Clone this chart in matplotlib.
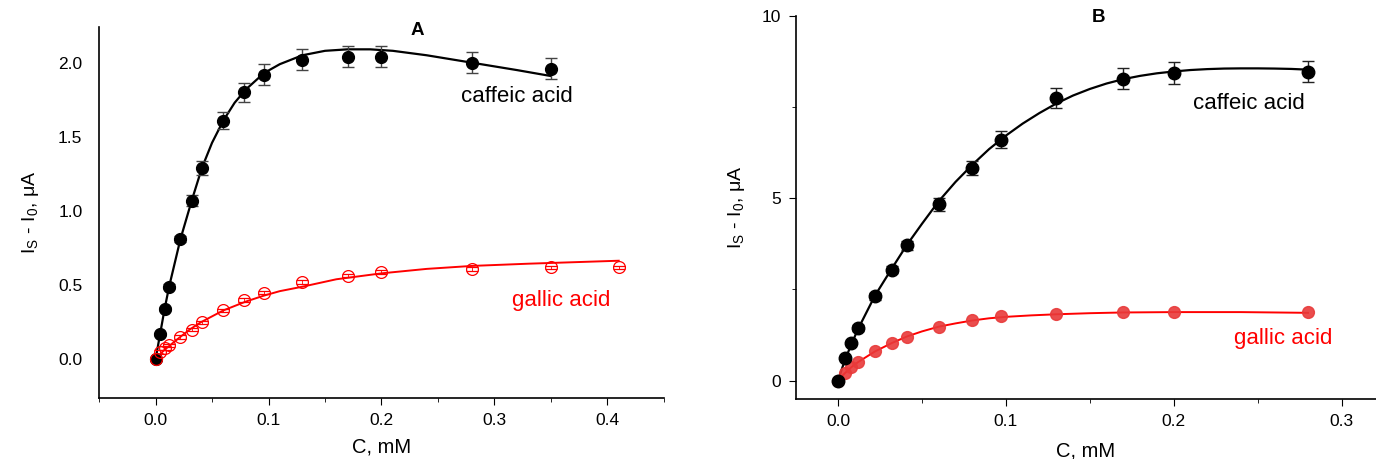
import numpy as np
import matplotlib
matplotlib.use('Agg')
from matplotlib import pyplot as plt
from matplotlib.ticker import MultipleLocator

plt.rcParams['font.family'] = ['Liberation Sans', 'DejaVu Sans']
plt.rcParams['mathtext.fontset'] = 'custom'
plt.rcParams['mathtext.rm'] = 'Liberation Sans'
plt.rcParams['mathtext.it'] = 'Liberation Sans'

# ---- panel A data ----
a_caf_x = [0, 0.004, 0.008, 0.012, 0.022, 0.032, 0.041, 0.06, 0.078, 0.096, 0.13, 0.17, 0.20, 0.28, 0.35]
a_caf_y = [0, 0.17, 0.34, 0.49, 0.81, 1.07, 1.29, 1.61, 1.80, 1.92, 2.02, 2.04, 2.04, 2.00, 1.96]
a_caf_err = [0.01, 0.01, 0.012, 0.015, 0.02, 0.035, 0.044, 0.056, 0.065, 0.068, 0.07, 0.07, 0.07, 0.07, 0.07]
a_caf_fit_x = [0, 0.004, 0.008, 0.012, 0.022, 0.032, 0.041, 0.05, 0.06, 0.07, 0.08, 0.096, 0.11, 0.13, 0.15, 0.17, 0.19, 0.21, 0.24, 0.28, 0.32, 0.35]
a_caf_fit_y = [0, 0.17, 0.34, 0.49, 0.81, 1.07, 1.29, 1.46, 1.61, 1.73, 1.82, 1.93, 1.99, 2.05, 2.08, 2.09, 2.09, 2.08, 2.05, 2.00, 1.95, 1.91]

a_gal_x = [0, 0.004, 0.008, 0.012, 0.022, 0.032, 0.041, 0.06, 0.078, 0.096, 0.13, 0.17, 0.20, 0.28, 0.35, 0.41]
a_gal_y = [0, 0.05, 0.075, 0.095, 0.15, 0.20, 0.25, 0.33, 0.40, 0.45, 0.52, 0.565, 0.59, 0.61, 0.62, 0.62]
a_gal_err = [0.012] * 16
a_gal_fit_x = [0, 0.004, 0.008, 0.012, 0.02, 0.03, 0.04, 0.05, 0.06, 0.08, 0.096, 0.11, 0.13, 0.16, 0.2, 0.24, 0.28, 0.33, 0.37, 0.41]
a_gal_fit_y = [0, 0.035, 0.065, 0.09, 0.14, 0.2, 0.25, 0.29, 0.33, 0.39, 0.43, 0.46, 0.49, 0.54, 0.58, 0.61, 0.63, 0.645, 0.655, 0.665]

# ---- panel B data ----
b_caf_x = [0, 0.004, 0.008, 0.012, 0.022, 0.032, 0.041, 0.06, 0.08, 0.097, 0.13, 0.17, 0.20, 0.28]
b_caf_y = [0, 0.62, 1.03, 1.44, 2.31, 3.04, 3.71, 4.84, 5.83, 6.61, 7.76, 8.28, 8.43, 8.47]
b_caf_err = [0.05, 0.05, 0.06, 0.08, 0.1, 0.1, 0.12, 0.18, 0.2, 0.23, 0.27, 0.29, 0.3, 0.29]
b_caf_fit_x = [0, 0.004, 0.008, 0.012, 0.022, 0.032, 0.041, 0.05, 0.06, 0.07, 0.08, 0.09, 0.1, 0.11, 0.12, 0.13, 0.14, 0.15, 0.16, 0.17, 0.18, 0.19, 0.2, 0.21, 0.22, 0.23, 0.24, 0.25, 0.26, 0.27, 0.28]
b_caf_fit_y = [0, 0.55, 1.0, 1.42, 2.33, 3.07, 3.72, 4.3, 4.92, 5.45, 5.92, 6.35, 6.72, 7.05, 7.34, 7.6, 7.82, 8.0, 8.15, 8.27, 8.36, 8.43, 8.48, 8.52, 8.545, 8.56, 8.565, 8.565, 8.56, 8.55, 8.53]

b_gal_x = [0, 0.004, 0.008, 0.012, 0.022, 0.032, 0.041, 0.06, 0.08, 0.097, 0.13, 0.17, 0.20, 0.28]
b_gal_y = [0, 0.2, 0.37, 0.5, 0.80, 1.03, 1.21, 1.48, 1.65, 1.76, 1.83, 1.87, 1.88, 1.88]
b_gal_fit_x = [0, 0.004, 0.008, 0.012, 0.022, 0.032, 0.041, 0.05, 0.06, 0.07, 0.08, 0.09, 0.1, 0.115, 0.13, 0.15, 0.17, 0.2, 0.24, 0.28]
b_gal_fit_y = [0, 0.2, 0.37, 0.51, 0.8, 1.03, 1.21, 1.35, 1.48, 1.57, 1.65, 1.71, 1.75, 1.79, 1.82, 1.85, 1.87, 1.88, 1.88, 1.86]

ylab = r'I$_\mathrm{S}$ - I$_\mathrm{0}$, $\mathrm{\mu}$A'

fig = plt.figure(figsize=(13.76, 4.59), dpi=100)
axA = fig.add_axes([0.072, 0.133, 0.4105, 0.808])
axB = fig.add_axes([0.5785, 0.131, 0.4215, 0.834])

# panel A
axA.plot(a_caf_fit_x, a_caf_fit_y, color='black', lw=1.6, zorder=2)
axA.errorbar(a_caf_x, a_caf_y, yerr=a_caf_err, fmt='o', color='black', ms=8.5,
             ecolor='#444444', elinewidth=1, capsize=4, capthick=1, zorder=3)
axA.plot(a_gal_fit_x, a_gal_fit_y, color='red', lw=1.4, zorder=2)
axA.errorbar(a_gal_x, a_gal_y, yerr=a_gal_err, fmt='o', mfc='none', mec='red', ms=8.5,
             ecolor='red', elinewidth=0.6, capsize=4, capthick=0.6, mew=0.9, zorder=3)
axA.set_xlim(-0.05, 0.45)
axA.set_ylim(-0.26, 2.24)
axA.xaxis.set_major_locator(MultipleLocator(0.1))
axA.xaxis.set_minor_locator(MultipleLocator(0.05))
axA.yaxis.set_major_locator(MultipleLocator(0.5))
axA.tick_params(axis='y', length=0, labelsize=12.5, pad=12)
axA.tick_params(axis='x', which='major', length=5, labelsize=12.5, pad=6)
axA.tick_params(axis='x', which='minor', length=3)
axA.spines['top'].set_visible(False)
axA.spines['right'].set_visible(False)
axA.set_xlabel('C, mM', fontsize=14.5, labelpad=7)
axA.set_ylabel(ylab, fontsize=14, labelpad=12)
axA.text(0.232, 2.22, 'A', fontsize=13.5, fontweight='bold', ha='center', va='center')
axA.text(0.32, 1.77, 'caffeic acid', fontsize=16, ha='center', va='center')
axA.text(0.359, 0.40, 'gallic acid', fontsize=16, ha='center', va='center', color='red')

# panel B
axB.plot(b_caf_fit_x, b_caf_fit_y, color='black', lw=1.6, zorder=2)
axB.errorbar(b_caf_x, b_caf_y, yerr=b_caf_err, fmt='o', color='black', ms=9,
             ecolor='#222222', elinewidth=1, capsize=4, capthick=1, zorder=3)
axB.plot(b_gal_fit_x, b_gal_fit_y, color='red', lw=1.4, zorder=2)
axB.plot(b_gal_x, b_gal_y, 'o', color='#e83a3a', ms=8.5, alpha=0.9, zorder=3)
axB.set_xlim(-0.025, 0.3205)
axB.set_ylim(-0.5, 10)
axB.xaxis.set_major_locator(MultipleLocator(0.1))
axB.xaxis.set_minor_locator(MultipleLocator(0.05))
axB.yaxis.set_major_locator(MultipleLocator(5))
axB.yaxis.set_minor_locator(MultipleLocator(2.5))
axB.tick_params(axis='both', which='major', length=5, labelsize=12.5, pad=6)
axB.tick_params(axis='both', which='minor', length=3)
axB.spines['top'].set_visible(False)
axB.spines['right'].set_visible(False)
axB.set_xlabel('C, mM', fontsize=14.5, labelpad=9)
axB.set_ylabel(ylab, fontsize=14, labelpad=10)
axB.text(0.155, 9.95, 'B', fontsize=13.5, fontweight='bold', ha='center', va='center')
axB.text(0.245, 7.61, 'caffeic acid', fontsize=16, ha='center', va='center')
axB.text(0.265, 1.15, 'gallic acid', fontsize=16, ha='center', va='center', color='red')

for ax in (axA, axB):
    for s in ('left', 'bottom'):
        ax.spines[s].set_linewidth(1.2)

fig.savefig('out.png', dpi=100)
